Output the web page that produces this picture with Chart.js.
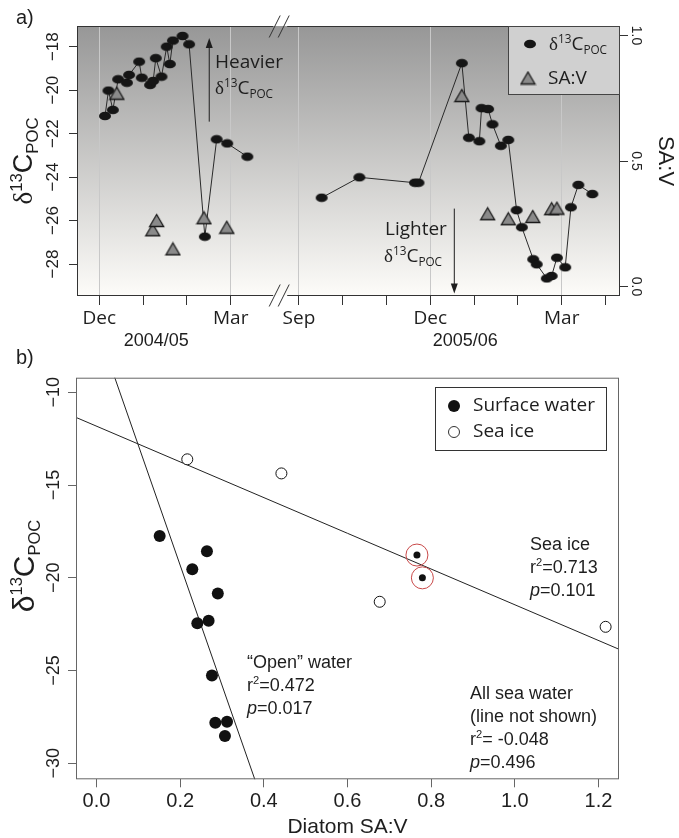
<!DOCTYPE html>
<html>
<head>
<meta charset="utf-8">
<script src="https://cdn.jsdelivr.net/npm/chart.js@4.4.1/dist/chart.umd.min.js"></script>
<style>
  html, body { margin: 0; padding: 0; background: #fff; }
  #wrap { position: relative; width: 679px; height: 838px; }
  canvas { position: absolute; left: 0; }
  #chartA { top: 0; }
  #chartB { top: 340px; }
</style>
</head>
<body>
<div id="wrap">
  <canvas id="chartA" width="679" height="360"></canvas>
  <canvas id="chartB" width="679" height="498"></canvas>
</div>
<script>
// ---- panel a : months counted from 1 Dec of each season ----
var season2Shift = 7.557; // axis break squeezes Apr-Aug 2005
var breakPos = 4.13;
var monthTicks1 = [0, 1, 2, 3];
var monthLabels1 = ['Dec', '', '', 'Mar'];
var monthTicks2 = [-3, -2, -1, 0, 1, 2, 3, 4];
var monthLabels2 = ['Sep', '', '', 'Dec', '', '', 'Mar', ''];
var pocTicks = [-28, -26, -24, -22, -20, -18];
var savTicks = [0, 0.5, 1.0];

var poc0405Month = [0.13, 0.21, 0.31, 0.43, 0.63, 0.68, 0.91, 0.97, 1.16, 1.23, 1.29, 1.42, 1.54, 1.61, 1.68, 1.90, 2.05, 2.41, 2.68, 2.92, 3.38];
var poc0405 = [-21.19, -20.02, -20.91, -19.50, -19.66, -19.30, -18.69, -19.43, -19.76, -19.58, -18.53, -19.38, -18.00, -18.80, -17.72, -17.51, -17.89, -26.74, -22.26, -22.45, -23.06];
var sav0405Month = [0.40, 1.22, 1.31, 1.68, 2.39, 2.91];
var sav0405 = [0.77, 0.226, 0.263, 0.150, 0.274, 0.236];

var poc0506Month = [-2.48, -1.62, -0.35, -0.27, 0.72, 0.88, 1.12, 1.17, 1.32, 1.42, 1.61, 1.78, 1.97, 2.09, 2.35, 2.43, 2.66, 2.77, 2.89, 3.08, 3.21, 3.38, 3.70];
var poc0506 = [-24.95, -24.01, -24.26, -24.26, -18.76, -22.19, -22.35, -20.83, -20.87, -21.57, -22.56, -22.29, -25.52, -26.31, -27.78, -28.01, -28.66, -28.55, -27.71, -28.15, -25.39, -24.36, -24.78];
var sav0506Month = [0.72, 1.31, 1.78, 2.34, 2.77, 2.89];
var sav0506 = [0.761, 0.290, 0.270, 0.279, 0.310, 0.312];

// ---- panel b ----
var openSAV = [0.151, 0.264, 0.229, 0.290, 0.241, 0.268, 0.276, 0.284, 0.312, 0.307];
var openPOC = [-17.75, -18.56, -19.54, -20.84, -22.45, -22.31, -25.26, -27.81, -27.76, -28.53];
var circledSAV = [0.766, 0.779];
var circledPOC = [-18.77, -20.00];
var iceSAV = [0.217, 0.442, 0.677, 1.217];
var icePOC = [-13.61, -14.37, -21.29, -22.64];
var iceLineX = [-0.1, 1.3];
var iceLineY = [-10.86, -24.34];
var openLineX = [0.025, 0.396];
var openLineY = [-8, -32];
var savTicksB = [0, 0.2, 0.4, 0.6, 0.8, 1.0, 1.2];
var pocTicksB = [-30, -25, -20, -15, -10];

var TXT = '#1e1e1e';
var SANS = 'Liberation Sans';
var HUM = 'Open Sans';

function toPts(xs, ys, shift) {
  return xs.map(function (x, i) { return { x: x + (shift || 0), y: ys[i] }; });
}

var xTickPos = monthTicks1.concat(monthTicks2.map(function (m) { return m + season2Shift; }));
var xTickLab = monthLabels1.concat(monthLabels2);

// ellipse marker (figure was stretched sideways)
function ellipseMark(w, h) {
  var c = document.createElement('canvas');
  c.width = w + 2; c.height = h + 2;
  var g = c.getContext('2d');
  g.fillStyle = '#151515';
  g.beginPath();
  g.ellipse(c.width / 2, c.height / 2, w / 2, h / 2, 0, 0, Math.PI * 2);
  g.fill();
  return c;
}
function triMark(w, h) {
  var c = document.createElement('canvas');
  c.width = w + 3; c.height = h + 3;
  var g = c.getContext('2d');
  g.fillStyle = '#8a8a8a';
  g.strokeStyle = '#1a1a1a';
  g.lineWidth = 1.3;
  g.beginPath();
  g.moveTo(c.width / 2, 1.5);
  g.lineTo(c.width - 1.5, c.height - 1.5);
  g.lineTo(1.5, c.height - 1.5);
  g.closePath();
  g.fill(); g.stroke();
  return c;
}
var dot = ellipseMark(12, 8.5);
var tri = triMark(14, 12);

// text with sub/superscripts: parts = [text, 1 sup / -1 sub / 0, family, style]
function rich(ctx, parts, x, y, size, fam, align, ratio) {
  var small = size * (ratio || 0.62), w = 0;
  function font(p) {
    return (p[3] ? p[3] + ' ' : '') + (p[1] ? small : size) + 'px "' + (p[2] || fam) + '"';
  }
  var ws = parts.map(function (p) {
    ctx.font = font(p);
    var m = ctx.measureText(p[0]).width; w += m; return m;
  });
  var cx = align === 'center' ? x - w / 2 : (align === 'right' ? x - w : x);
  ctx.textAlign = 'left';
  ctx.textBaseline = 'alphabetic';
  parts.forEach(function (p, i) {
    ctx.font = font(p);
    var dy = p[1] === 1 ? -size * 0.38 : (p[1] === -1 ? size * 0.2 : 0);
    ctx.fillText(p[0], cx, y + dy);
    cx += ws[i];
  });
}
function rotRich(ctx, parts, x, y, size, fam, ang, ratio) {
  ctx.save();
  ctx.translate(x, y);
  ctx.rotate(ang);
  rich(ctx, parts, 0, size * 0.35, size, fam, 'center', ratio);
  ctx.restore();
}
function rotText(ctx, t, x, y, font, ang) {
  ctx.save();
  ctx.translate(x, y);
  ctx.rotate(ang);
  ctx.font = font;
  ctx.textAlign = 'center';
  ctx.textBaseline = 'middle';
  ctx.fillText(t, 0, 0);
  ctx.restore();
}
function arrow(ctx, x, y1, y2) {
  var d = y2 > y1 ? 1 : -1;
  ctx.beginPath();
  ctx.moveTo(x, y1); ctx.lineTo(x, y2 - d * 8);
  ctx.stroke();
  ctx.beginPath();
  ctx.moveTo(x, y2); ctx.lineTo(x - 3.5, y2 - d * 10); ctx.lineTo(x + 3.5, y2 - d * 10);
  ctx.closePath(); ctx.fill();
}
function fmtNum(v, d) { return (v < 0 ? '\u2212' : '') + Math.abs(v).toFixed(d); }

var dC = [['\u03b4', 0, 'Liberation Serif'], ['13', 1], ['C', 0], ['POC', -1]];

var panelA = {
  id: 'panelA',
  beforeDraw: function (chart) {
    var ctx = chart.ctx, a = chart.chartArea;
    var g = ctx.createLinearGradient(0, a.top, 0, a.bottom);
    g.addColorStop(0, '#979797');
    g.addColorStop(1, '#fdfcf9');
    ctx.save();
    ctx.fillStyle = g;
    ctx.fillRect(a.left, a.top, a.right - a.left, a.bottom - a.top);
    ctx.restore();
  },
  afterDatasetsDraw: function (chart) {
    var ctx = chart.ctx, a = chart.chartArea;
    var bx = chart.scales.x.getPixelForValue(breakPos);
    ctx.save();
    ctx.strokeStyle = '#333';
    ctx.lineWidth = 1;
    ctx.beginPath();
    ctx.moveTo(a.left + 0.5, a.top); ctx.lineTo(a.left + 0.5, a.bottom);
    ctx.moveTo(a.right - 0.5, a.top); ctx.lineTo(a.right - 0.5, a.bottom);
    [a.top + 0.5, a.bottom - 0.5].forEach(function (y) {
      ctx.moveTo(a.left, y); ctx.lineTo(bx - 7, y);
      ctx.moveTo(bx + 7, y); ctx.lineTo(a.right, y);
      ctx.moveTo(bx - 11, y + 11); ctx.lineTo(bx, y - 11);
      ctx.moveTo(bx - 2, y + 11); ctx.lineTo(bx + 9, y - 11);
    });
    ctx.stroke();
    ctx.restore();
  },
  afterDraw: function (chart) {
    var ctx = chart.ctx, a = chart.chartArea;
    var xs = chart.scales.x, ys = chart.scales.y, y2s = chart.scales.y2;
    ctx.save();
    ctx.fillStyle = TXT;
    ctx.strokeStyle = TXT;
    ctx.lineWidth = 1;

    // rotated tick labels
    pocTicks.forEach(function (v) {
      rotText(ctx, fmtNum(v, 0), 53.5, ys.getPixelForValue(v), '17px "' + SANS + '"', -Math.PI / 2);
    });
    savTicks.forEach(function (v) {
      rotText(ctx, v.toFixed(1), 636, y2s.getPixelForValue(v), '14px "' + SANS + '"', Math.PI / 2);
    });
    rotRich(ctx, dC, 23, (a.top + a.bottom) / 2, 27, SANS, -Math.PI / 2);
    rotText(ctx, 'SA:V', 665, (a.top + a.bottom) / 2, '22px "' + SANS + '"', Math.PI / 2);

    ctx.font = '20px "' + SANS + '"';
    ctx.textAlign = 'left'; ctx.textBaseline = 'middle';
    ctx.fillText('a)', 16, 18);

    ctx.font = '18px "' + SANS + '"';
    ctx.textAlign = 'center';
    ctx.fillText('2004/05', xs.getPixelForValue(1.3), 341);
    ctx.fillText('2005/06', xs.getPixelForValue(season2Shift + 0.8), 341);

    // heavier / lighter notes
    arrow(ctx, xs.getPixelForValue(2.51), ys.getPixelForValue(-21.45), ys.getPixelForValue(-17.6));
    ctx.font = '19px "' + HUM + '"';
    ctx.textAlign = 'left'; ctx.textBaseline = 'middle';
    ctx.fillText('Heavier', 215, 63);
    rich(ctx, dC, 215, 94, 19, HUM, 'left');
    arrow(ctx, xs.getPixelForValue(season2Shift + 0.548), ys.getPixelForValue(-25.45), ys.getPixelForValue(-29.35));
    ctx.font = '19px "' + HUM + '"';
    ctx.textBaseline = 'middle';
    ctx.fillText('Lighter', 385, 230);
    rich(ctx, dC, 384, 262, 19, HUM, 'left');

    // legend
    ctx.fillStyle = '#d0d0d0';
    ctx.fillRect(508.5, a.top + 0.5, a.right - 509, 68);
    ctx.strokeStyle = '#444';
    ctx.strokeRect(508.5, a.top + 0.5, a.right - 509, 68);
    ctx.drawImage(dot, 530 - dot.width / 2, 44 - dot.height / 2);
    ctx.drawImage(tri, 528 - tri.width / 2, 78 - tri.height / 2);
    ctx.fillStyle = TXT;
    rich(ctx, dC, 549, 50, 19, HUM, 'left');
    ctx.font = '19px "' + HUM + '"';
    ctx.textAlign = 'left'; ctx.textBaseline = 'middle';
    ctx.fillText('SA:V', 548, 79);
    ctx.restore();
  }
};

new Chart(document.getElementById('chartA'), {
  type: 'scatter',
  data: {
    datasets: [
      { data: toPts(poc0405Month, poc0405), yAxisID: 'y', showLine: true, borderColor: '#2a2a2a', borderWidth: 1, pointStyle: dot, pointRadius: 5, order: 2 },
      { data: toPts(poc0506Month, poc0506, season2Shift), yAxisID: 'y', showLine: true, borderColor: '#2a2a2a', borderWidth: 1, pointStyle: dot, pointRadius: 5, order: 2 },
      { data: toPts(sav0405Month, sav0405), yAxisID: 'y2', pointStyle: tri, pointRadius: 6, order: 1 },
      { data: toPts(sav0506Month, sav0506, season2Shift), yAxisID: 'y2', pointStyle: tri, pointRadius: 6, order: 1 }
    ]
  },
  options: {
    responsive: false,
    animation: false,
    layout: { padding: { top: 26, left: 0, right: 0, bottom: 0 } },
    plugins: { legend: { display: false }, tooltip: { enabled: false } },
    scales: {
      x: {
        type: 'linear', min: -0.509, max: 11.888,
        afterFit: function (s) { s.height = 64; },
        afterBuildTicks: function (s) { s.ticks = xTickPos.map(function (v) { return { value: v }; }); },
        grid: {
          color: function (c) { return xTickLab[c.index] ? '#c8c8c8' : 'rgba(0,0,0,0)'; },
          tickColor: '#333', tickLength: 9, lineWidth: 1
        },
        border: { display: false },
        ticks: {
          autoSkip: false, maxRotation: 0, minRotation: 0, padding: 2, color: TXT,
          font: { family: HUM, size: 19 },
          callback: function (v, i) { return xTickLab[i]; }
        }
      },
      y: {
        position: 'left', min: -29.47, max: -17.05,
        afterFit: function (s) { s.width = 77; },
        afterBuildTicks: function (s) { s.ticks = pocTicks.map(function (v) { return { value: v }; }); },
        grid: { drawOnChartArea: false, tickColor: '#333', tickLength: 8 },
        border: { display: false },
        ticks: { display: false }
      },
      y2: {
        position: 'right', min: -0.038, max: 1.038,
        afterFit: function (s) { s.width = 59; },
        afterBuildTicks: function (s) { s.ticks = savTicks.map(function (v) { return { value: v }; }); },
        grid: { drawOnChartArea: false, tickColor: '#333', tickLength: 8 },
        border: { display: false },
        ticks: { display: false }
      }
    }
  },
  plugins: [panelA]
});

var panelB = {
  id: 'panelB',
  afterDraw: function (chart) {
    var ctx = chart.ctx, a = chart.chartArea, ys = chart.scales.y;
    ctx.save();
    ctx.strokeStyle = '#666';
    ctx.lineWidth = 1;
    ctx.strokeRect(a.left + 0.5, a.top + 0.5, a.right - a.left - 1, a.bottom - a.top - 1);
    ctx.fillStyle = TXT;
    pocTicksB.forEach(function (v) {
      rotText(ctx, fmtNum(v, 0), 54, ys.getPixelForValue(v), '18px "' + SANS + '"', -Math.PI / 2);
    });
    rotRich(ctx, [['\u03b4', 0], ['13', 1], ['C', 0], ['POC', -1]], 23, 226, 30, SANS, -Math.PI / 2, 0.55);
    ctx.font = '21px "' + SANS + '"';
    ctx.textAlign = 'center'; ctx.textBaseline = 'middle';
    ctx.fillText('Diatom SA:V', (a.left + a.right) / 2, 487);
    ctx.font = '20px "' + SANS + '"';
    ctx.textAlign = 'left';
    ctx.fillText('b)', 16, 18);

    // legend
    ctx.fillStyle = '#fff';
    ctx.fillRect(435.5, 47.5, 171, 63);
    ctx.strokeStyle = '#333';
    ctx.strokeRect(435.5, 47.5, 171, 63);
    ctx.fillStyle = '#111';
    ctx.beginPath(); ctx.arc(454, 66, 6, 0, Math.PI * 2); ctx.fill();
    ctx.fillStyle = '#fff';
    ctx.beginPath(); ctx.arc(454, 92, 5.5, 0, Math.PI * 2); ctx.fill(); ctx.stroke();
    ctx.fillStyle = TXT;
    ctx.font = '19px "' + HUM + '"';
    ctx.textBaseline = 'middle';
    ctx.fillText('Surface water', 473, 66);
    ctx.fillText('Sea ice', 473, 92);

    // fit notes
    function note(lines, x, y0) {
      lines.forEach(function (ln, i) {
        rich(ctx, ln, x, y0 + i * 23 + 6, 18, SANS, 'left');
      });
    }
    var pIt = ['p', 0, SANS, 'italic'];
    note([[['Sea ice', 0]], [['r', 0], ['2', 1], ['=0.713', 0]], [pIt, ['=0.101', 0]]], 530, 204);
    note([[['\u201cOpen\u201d water', 0]], [['r', 0], ['2', 1], ['=0.472', 0]], [pIt, ['=0.017', 0]]], 247, 322);
    note([[['All sea water', 0]], [['(line not shown)', 0]], [['r', 0], ['2', 1], ['= -0.048', 0]], [pIt, ['=0.496', 0]]], 470, 353);
    ctx.restore();
  }
};

new Chart(document.getElementById('chartB'), {
  type: 'scatter',
  data: {
    datasets: [
      { data: toPts(iceLineX, iceLineY), showLine: true, borderColor: '#222', borderWidth: 1, pointRadius: 0, order: 5 },
      { data: toPts(openLineX, openLineY), showLine: true, borderColor: '#222', borderWidth: 1, pointRadius: 0, order: 5 },
      { data: toPts(openSAV, openPOC), pointRadius: 6, backgroundColor: '#111', borderColor: '#111', borderWidth: 0, order: 2 },
      { data: toPts(iceSAV, icePOC), pointRadius: 5.5, backgroundColor: '#fff', borderColor: '#111', borderWidth: 1, order: 2 },
      { data: toPts(circledSAV, circledPOC), pointRadius: 3.5, backgroundColor: '#111', borderColor: '#111', borderWidth: 0, order: 1 },
      { data: toPts(circledSAV, circledPOC), pointRadius: 11, backgroundColor: 'rgba(0,0,0,0)', borderColor: '#c84848', borderWidth: 1, order: 1 }
    ]
  },
  options: {
    responsive: false,
    animation: false,
    layout: { padding: { top: 37.7, left: 0, right: 60, bottom: 0 } },
    plugins: { legend: { display: false }, tooltip: { enabled: false } },
    scales: {
      x: {
        type: 'linear', min: -0.049, max: 1.249,
        afterFit: function (s) { s.height = 58.7; },
        afterBuildTicks: function (s) { s.ticks = savTicksB.map(function (v) { return { value: v }; }); },
        grid: { drawOnChartArea: false, tickColor: '#666', tickLength: 8 },
        border: { display: false },
        ticks: {
          autoSkip: false, maxRotation: 0, minRotation: 0, padding: 2, color: TXT,
          font: { family: SANS, size: 20 },
          callback: function (v) { return v.toFixed(1); }
        }
      },
      y: {
        min: -30.86, max: -9.21,
        afterFit: function (s) { s.width = 76; },
        afterBuildTicks: function (s) { s.ticks = pocTicksB.map(function (v) { return { value: v }; }); },
        grid: { drawOnChartArea: false, tickColor: '#666', tickLength: 8 },
        border: { display: false },
        ticks: { display: false }
      }
    }
  },
  plugins: [panelB]
});
</script>
</body>
</html>
